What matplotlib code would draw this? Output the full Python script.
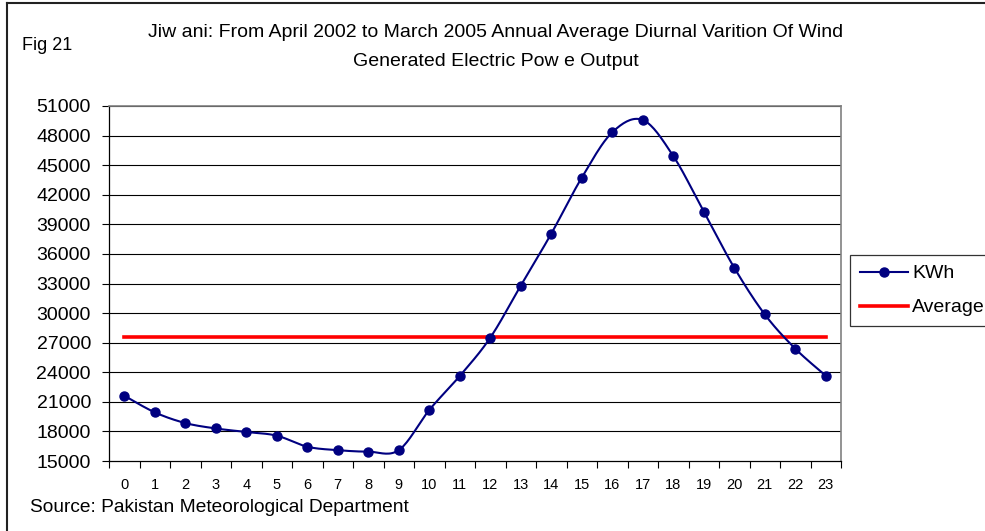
import numpy as np
import matplotlib
matplotlib.use("Agg")
import matplotlib.pyplot as plt
from matplotlib.lines import Line2D

plt.rcParams['font.family'] = ['Liberation Sans', 'DejaVu Sans']

hours = list(range(24))
kwh = [21625, 19935, 18850, 18300, 17940, 17570, 16450, 16100, 15950, 16100,
       20170, 23620, 27500, 32780, 38050, 43730, 48330, 49580, 45930, 40285,
       34600, 29870, 26390, 23650]
average = 27600
yticks = list(range(15000, 51001, 3000))

title = "Jiw ani: From April 2002 to March 2005 Annual Average Diurnal Varition Of Wind\nGenerated Electric Pow e Output"
fig_label = "Fig 21"
source = "Source: Pakistan Meteorological Department"

W, H = 985, 531
fig = plt.figure(figsize=(W / 100, H / 100), dpi=100)
ax = fig.add_axes([109 / W, (H - 461) / H, 732 / W, 355 / H])

# smoothed line (Catmull-Rom like Excel's smoothing)
x = np.array(hours, dtype=float)
y = np.array(kwh, dtype=float)
xs, ys = [], []
n = len(x)
for i in range(n - 1):
    p0 = np.array([x[max(i - 1, 0)], y[max(i - 1, 0)]])
    p1 = np.array([x[i], y[i]])
    p2 = np.array([x[i + 1], y[i + 1]])
    p3 = np.array([x[min(i + 2, n - 1)], y[min(i + 2, n - 1)]])
    c1 = p1 + (p2 - p0) / 6
    c2 = p2 - (p3 - p1) / 6
    t = np.linspace(0, 1, 20)[:, None]
    pts = (1 - t) ** 3 * p1 + 3 * (1 - t) ** 2 * t * c1 + 3 * (1 - t) * t ** 2 * c2 + t ** 3 * p2
    xs.extend(pts[:, 0]); ys.extend(pts[:, 1])

navy = '#000080'
ax.plot(xs, ys, color=navy, lw=1.5, zorder=3)
ax.plot(x, y, 'o', color=navy, ms=6.5, zorder=4)
ax.plot([hours[0], hours[-1]], [average, average], color='#ff0000', lw=2.6, zorder=2)

ax.set_xlim(-0.5, 23.5)
ax.set_ylim(15000, 51000)
ax.set_yticks(yticks)
ax.set_yticklabels([str(v) for v in yticks], fontsize=14)
for v in yticks[1:]:
    ax.axhline(v, color='black', lw=0.8, zorder=1)

ax.set_xticks(np.arange(-0.5, 24, 1))
ax.set_xticklabels([])
ax.set_xticks(hours, minor=True)
ax.set_xticklabels([str(h) for h in hours], minor=True, fontsize=10.5)
ax.tick_params(axis='x', which='major', length=5, direction='out', width=0.8)
ax.tick_params(axis='x', which='minor', length=0, pad=12)
ax.tick_params(axis='y', length=5, direction='out', width=0.8, pad=8)

for s in ['left', 'bottom']:
    ax.spines[s].set_color('black'); ax.spines[s].set_linewidth(0.9)
for s in ['top', 'right']:
    ax.spines[s].set_color('#808080'); ax.spines[s].set_linewidth(1.2)

fig.text(496 / W, 1 - 47 / H, title, ha='center', va='center', fontsize=14, linespacing=1.9)
fig.text(22 / W, 1 - 46 / H, fig_label, ha='left', va='center', fontsize=13)
fig.text(30 / W, 1 - 507 / H, source, ha='left', va='center', fontsize=13.8)

handles = [Line2D([], [], color=navy, lw=1.5, marker='o', ms=6.5),
           Line2D([], [], color='#ff0000', lw=2.6)]
leg = fig.legend(handles, ['KWh', 'Average'], loc='upper left',
                 bbox_to_anchor=(850 / W, 1 - 255 / H), fontsize=14, frameon=True,
                 fancybox=False, borderpad=0.5, handlelength=2.5, labelspacing=0.85,
                 handletextpad=0.2, borderaxespad=0)
leg.get_frame().set_edgecolor('black'); leg.get_frame().set_linewidth(0.9)

# chart-area border
fig.add_artist(Line2D([7 / W, 7 / W], [0, 1 - 3 / H], color='#222222', lw=1.5))
fig.add_artist(Line2D([7 / W, 1], [1 - 3 / H, 1 - 3 / H], color='#222222', lw=1.5))

fig.savefig('out.png', dpi=100)
